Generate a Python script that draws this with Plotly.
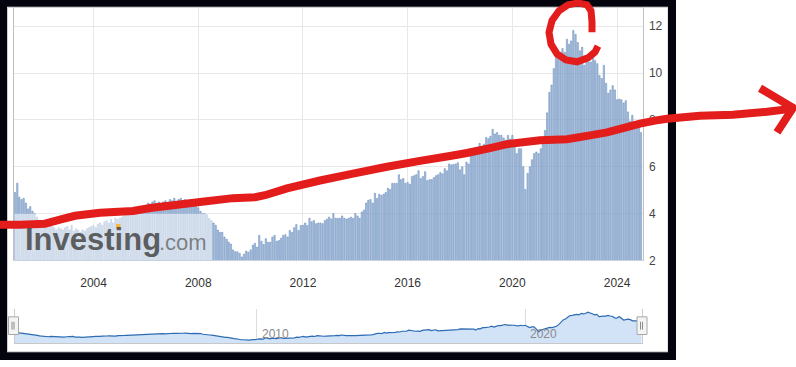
import plotly.graph_objects as go
import pandas as pd

# ---------------- data (job openings, millions; monthly release points) ----------------
y2001 = [4.9, 5.3, 4.7, 4.6, 4.65, 4.45, 4.2, 4.3, 4.1, 4.0, 3.85, 3.7]
y2002 = [3.6, 3.5, 3.55, 3.4, 3.5, 3.45, 3.4, 3.3, 3.4, 3.35, 3.3, 3.4]
y2003 = [3.45, 3.3, 3.5, 3.25, 3.35, 3.3, 3.2, 3.3, 3.25, 3.35, 3.4, 3.45]
y2004 = [3.5, 3.4, 3.55, 3.6, 3.5, 3.65, 3.7, 3.6, 3.75, 3.6, 3.8, 3.75]
y2005 = [3.8, 3.85, 3.9, 3.95, 4.0, 4.1, 4.05, 4.2, 4.15, 4.25, 4.2, 4.3]
y2006 = [4.3, 4.45, 4.4, 4.5, 4.55, 4.45, 4.5, 4.4, 4.5, 4.55, 4.45, 4.6]
y2007 = [4.55, 4.65, 4.5, 4.6, 4.65, 4.55, 4.6, 4.5, 4.55, 4.6, 4.45, 4.5]
y2008 = [4.25, 4.1, 4.0, 4.0, 3.95, 3.8, 3.7, 3.6, 3.5, 3.3, 3.2, 3.2]
y2009 = [3.0, 2.9, 2.78, 2.7, 2.45, 2.37, 2.37, 2.3, 2.15, 2.27, 2.4, 2.35]
y2010 = [2.45, 2.65, 2.73, 2.57, 3.07, 2.82, 2.68, 2.93, 2.78, 2.78, 3.0, 3.07]
y2011 = [2.82, 2.85, 2.95, 3.07, 3.1, 3.0, 3.28, 3.2, 3.4, 3.53, 3.28, 3.49]
y2012 = [3.5, 3.6, 3.49, 3.8, 3.65, 3.7, 3.57, 3.6, 3.6, 3.57, 3.7, 3.77]
y2013 = [3.85, 3.77, 4.0, 3.8, 3.8, 3.8, 3.9, 3.8, 3.77, 3.8, 3.85, 3.8]
y2014 = [4.0, 3.9, 3.8, 4.07, 4.15, 4.45, 4.57, 4.6, 4.45, 4.87, 4.65, 4.83]
y2015 = [4.78, 4.83, 4.9, 5.08, 5.03, 5.29, 5.29, 5.29, 5.66, 5.45, 5.5, 5.29]
y2016 = [5.33, 5.25, 5.58, 5.62, 5.66, 5.83, 5.5, 5.58, 5.79, 5.41, 5.45, 5.45]
y2017 = [5.54, 5.62, 5.66, 5.75, 5.7, 5.92, 5.83, 6.12, 6.08, 6.1, 6.12, 6.17]
y2018 = [5.87, 6.0, 5.66, 6.2, 6.12, 6.54, 6.5, 6.54, 6.75, 7.0, 6.7, 6.96]
y2019 = [7.25, 7.2, 7.3, 7.6, 7.4, 7.46, 7.34, 7.34, 7.23, 7.14, 7.34, 7.18]
y2020 = [7.34, 6.98, 6.56, 6.77, 6.77, 6.0, 5.03, 5.72, 6.0, 6.3, 6.56, 6.63]
y2021 = [6.56, 6.77, 7.0, 7.55, 8.3, 9.18, 9.49, 10.19, 10.68, 10.75, 10.89, 11.05]
y2022 = [10.89, 11.44, 11.23, 11.37, 11.82, 11.65, 11.3, 10.95, 11.1, 10.33, 10.53, 10.47]
y2023 = [10.47, 10.75, 10.53, 10.4, 9.9, 9.77, 10.33, 9.56, 9.14, 9.28, 9.46, 9.28]
y2024 = [8.86, 8.89, 8.86, 8.72, 8.82, 8.34, 7.95, 8.2, 7.88, 7.93, 7.84, 7.46]

x_tick_years = ["2004", "2008", "2012", "2016", "2020", "2024"]
y_tick_values = [2, 4, 6, 8, 10, 12]
nav_tick_years = ["2010", "2020"]

openings = (y2001 + y2002 + y2003 + y2004 + y2005 + y2006 + y2007 + y2008 +
            y2009 + y2010 + y2011 + y2012 + y2013 + y2014 + y2015 + y2016 +
            y2017 + y2018 + y2019 + y2020 + y2021 + y2022 + y2023 + y2024)
months = pd.date_range("2001-01-01", periods=len(openings), freq="MS")

W, H = 796, 367
FONT = "Liberation Sans, Arial, sans-serif"


def px_x(p):
    return p / W


def dom_y(top, bottom):
    return [1 - bottom / H, 1 - top / H]


fig = go.Figure()

fig.add_trace(go.Bar(
    x=months, y=openings, xaxis="x", yaxis="y",
    marker=dict(color="#b2c6e1", line=dict(color="#5b82b6", width=0.5)),
    hoverinfo="skip", showlegend=False,
))

fig.add_trace(go.Scatter(
    x=months, y=openings, xaxis="x2", yaxis="y2", mode="lines",
    line=dict(color="#2d6bb2", width=1.2), fill="tozeroy", fillcolor="#d2e3f8",
    hoverinfo="skip", showlegend=False,
))

# invisible trace so the pixel-overlay axes exist
fig.add_trace(go.Scatter(x=[0], y=[0], xaxis="x3", yaxis="y3", mode="markers",
                         marker=dict(opacity=0), hoverinfo="skip", showlegend=False))

fig.update_layout(
    width=W, height=H, margin=dict(l=0, r=0, t=0, b=0),
    paper_bgcolor="white", plot_bgcolor="rgba(0,0,0,0)",
    bargap=0.35, showlegend=False, hovermode=False,
    font=dict(family=FONT, size=12, color="#333333"),
    xaxis=dict(
        domain=[px_x(14), px_x(642.5)], type="date",
        range=["2000-12-17", "2024-12-21"],
        tickvals=[f"{y}-01-01" for y in x_tick_years], ticktext=x_tick_years,
        showgrid=True, gridcolor="#e8e8e8", gridwidth=1,
        showline=True, linecolor="#c8d0dd", mirror=True,
        ticks="outside", ticklen=11, tickcolor="rgba(0,0,0,0)",
        tickfont=dict(size=12, color="#333333"), zeroline=False, fixedrange=True,
    ),
    yaxis=dict(
        domain=dom_y(8, 265.5), range=[2, 12.783], side="right",
        tickvals=y_tick_values, ticktext=[str(v) for v in y_tick_values],
        showgrid=True, gridcolor="#e8e8e8", gridwidth=1,
        showline=True, linecolor="#c0c0c0", mirror=True,
        ticks="outside", ticklen=3, tickcolor="rgba(0,0,0,0)",
        tickfont=dict(size=12, color="#444444"), zeroline=False, fixedrange=True,
    ),
    xaxis2=dict(
        domain=[px_x(14.7), px_x(641.5)], type="date", anchor="y2",
        range=["2000-12-28", "2024-05-01"],
        tickvals=[f"{y}-01-01" for y in nav_tick_years],
        showticklabels=False, showgrid=True, gridcolor="#dddddd",
        showline=True, linecolor="#c8c8c8", zeroline=False, fixedrange=True,
    ),
    yaxis2=dict(
        domain=dom_y(315, 350), range=[1.14, 12.93], anchor="x2",
        showticklabels=False, showgrid=False, zeroline=False,
        showline=True, linecolor="#cccccc", mirror=True, fixedrange=True,
    ),
    xaxis3=dict(domain=[0, 1], range=[0, W], visible=False, fixedrange=True, anchor="y3"),
    yaxis3=dict(domain=[0, 1], range=[H, 0], visible=False, fixedrange=True, anchor="x3"),
)

shapes = []
# faded box behind the watermark
shapes.append(dict(type="rect", xref="x3", yref="y3", x0=14.5, x1=212, y0=218, y1=265,
                   fillcolor="rgba(255,255,255,0.55)", line=dict(width=0), layer="above"))
# orange dot of the logo
shapes.append(dict(type="rect", xref="x3", yref="y3", x0=116, x1=120.5, y0=228.5, y1=233,
                   fillcolor="#f4b33b", line=dict(width=0), layer="above"))
# navigator handles
for hx in (8.5, 637):
    shapes.append(dict(type="rect", xref="x3", yref="y3", x0=hx, x1=hx + 10, y0=323, y1=341,
                       fillcolor="#f4f4f4", line=dict(color="#a8a8a8", width=1), layer="above"))
    for dx in (3.5, 5.5):
        shapes.append(dict(type="line", xref="x3", yref="y3", x0=hx + dx, x1=hx + dx,
                           y0=328, y1=336, line=dict(color="#8a8a8a", width=1), layer="above"))
# thin grey container border
shapes.append(dict(type="rect", xref="x3", yref="y3", x0=7.5, x1=668, y0=7.5, y1=358.5,
                   fillcolor="rgba(0,0,0,0)", line=dict(color="#cfcfcf", width=1), layer="above"))
# black screenshot frame
FRAME = "#04040e"
for (x0, x1, y0, y1) in [(0, 676, 0, 7), (0, 7, 0, H), (668, 676, 0, H), (0, 676, 359, H)]:
    shapes.append(dict(type="rect", xref="x3", yref="y3", x0=x0, x1=x1, y0=y0, y1=y1,
                       fillcolor=FRAME, line=dict(width=0), layer="above"))

# hand-drawn red marks (pixel overlay)
stroke_pts = [(0, 229), (20, 229), (45, 228), (60, 224), (75, 220), (100, 217), (133, 215),
              (150, 212), (167, 210), (200, 206), (233, 202), (255, 201), (265, 199),
              (287, 192), (320, 184), (353, 177), (387, 170), (420, 164), (450, 159),
              (467, 156), (490, 151), (507, 147), (540, 143), (567, 142), (590, 138),
              (607, 135), (625, 130), (640, 126), (655, 123), (667, 121), (700, 118),
              (733, 117), (767, 114), (791, 111)]
arrow_pts = [(760, 90), (793, 110), (777, 135)]
c_pts = [(592, 33), (592, 22), (591, 11), (587, 5), (578, 3), (568, 5), (559, 11),
         (552, 21), (549, 33), (551, 45), (557, 55), (566, 61), (577, 63), (588, 59),
         (595, 53), (598, 47)]


def path_of(pts):
    return "M " + " L ".join(f"{a},{b}" for a, b in pts)


RED = "#e31c1c"
for pts, wdt in ((stroke_pts, 8), (arrow_pts, 8), (c_pts, 7)):
    shapes.append(dict(type="path", xref="x3", yref="y3", path=path_of(pts),
                       line=dict(color=RED, width=wdt), layer="above"))
fig.update_layout(shapes=shapes)

ann = []
ann.append(dict(xref="x3", yref="y3", x=23, y=244, xanchor="left", yanchor="middle",
                text="<b>Investing</b>", showarrow=False,
                font=dict(family=FONT, size=31, color="rgba(70,70,70,0.85)")))
ann.append(dict(xref="x3", yref="y3", x=157, y=247, xanchor="left", yanchor="middle",
                text=".com", showarrow=False,
                font=dict(family=FONT, size=22, color="rgba(95,95,95,0.75)")))
for yr in nav_tick_years:
    ann.append(dict(xref="x2", yref="y3", x=f"{yr}-01-01", y=340.5, xanchor="left",
                    yanchor="middle", xshift=3, text=yr, showarrow=False,
                    font=dict(family=FONT, size=12, color="#8a8a8a")))
fig.update_layout(annotations=ann)

page_fix = (
    "var de=document.documentElement, b=document.body;"
    "de.style.margin='0';de.style.padding='0';de.style.overflow='hidden';"
    "b.style.margin='0';b.style.padding='0';b.style.overflow='hidden';"
)

fig.write_html("out.html", config={"displayModeBar": False}, post_script=page_fix)
